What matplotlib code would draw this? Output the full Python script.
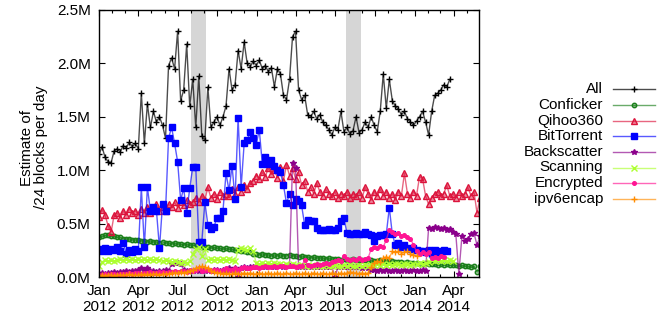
import numpy as np
import matplotlib
matplotlib.use("Agg")
import matplotlib.pyplot as plt
import matplotlib.dates as mdates
from matplotlib.lines import Line2D
from matplotlib.ticker import FuncFormatter, MultipleLocator

plt.rcParams["font.family"] = ["Liberation Sans", "DejaVu Sans"]
plt.rcParams["font.size"] = 11

# ─── DATA: millions of /24 blocks, one sample per week from 2012-01-01 ───
start = np.datetime64("2012-01-01")

all_blocks = [
    1.15, 1.22, 1.12, 1.08, 1.07, 1.18, 1.20, 1.17, 1.23, 1.21,
    1.26, 1.22, 1.25, 1.20, 1.72, 1.25, 1.62, 1.40, 1.55, 1.45,
    1.50, 1.42, 1.30, 1.98, 2.05, 1.95, 2.30, 1.65, 1.75, 2.18,
    1.60, 1.85, 1.40, 1.88, 1.32, 1.28, 1.78, 1.40, 1.45, 1.50,
    1.42, 1.50, 1.60, 1.95, 1.75, 1.80, 2.12, 1.95, 2.20, 2.00,
    1.97, 2.02, 1.98, 2.03, 1.95, 1.98, 1.92, 1.96, 1.78, 1.95,
    1.90, 1.70, 1.66, 1.85, 2.25, 2.30, 1.75, 1.66, 1.70, 1.52,
    1.50, 1.55, 1.48, 1.52, 1.45, 1.42, 1.38, 1.33, 1.40, 1.38,
    1.55, 1.36, 1.40, 1.34, 1.37, 1.50, 1.35, 1.38, 1.45, 1.40,
    1.50, 1.42, 1.36, 1.55, 1.90, 1.58, 1.85, 1.65, 1.60, 1.57,
    1.52, 1.55, 1.48, 1.45, 1.42, 1.46, 1.50, 1.55, 1.45, 1.33,
    1.55, 1.70, 1.72, 1.75, 1.80, 1.78, 1.85,
]

conficker = [
    0.37, 0.38, 0.39, 0.39, 0.38, 0.38, 0.37, 0.37, 0.36, 0.36, 0.36, 0.35, 0.35,
    0.35, 0.34, 0.34, 0.33, 0.34, 0.33, 0.33, 0.32, 0.33, 0.32, 0.32, 0.31, 0.32,
    0.31, 0.31, 0.30, 0.31, 0.30, 0.30, 0.29, 0.29, 0.28, 0.28, 0.28, 0.27, 0.28,
    0.27, 0.27, 0.26, 0.27, 0.26, 0.26, 0.25, 0.25, 0.24, 0.24, 0.23, 0.23, 0.22,
    0.22, 0.21, 0.22, 0.21, 0.21, 0.20, 0.21, 0.20, 0.21, 0.20, 0.20, 0.21, 0.20,
    0.20, 0.19, 0.20, 0.19, 0.19, 0.18, 0.19, 0.18, 0.18, 0.18, 0.17, 0.18, 0.17,
    0.17, 0.17, 0.16, 0.17, 0.16, 0.16, 0.17, 0.16, 0.16, 0.16, 0.16, 0.15, 0.16,
    0.15, 0.15, 0.16, 0.15, 0.15, 0.14, 0.15, 0.14, 0.14, 0.14, 0.13, 0.14, 0.13,
    0.13, 0.13, 0.12, 0.12, 0.13, 0.12, 0.12, 0.12, 0.11, 0.12, 0.11, 0.12, 0.11,
    0.11, 0.11, 0.10, 0.11, 0.10, 0.10, 0.09, 0.10, 0.05, 0.10,
]

qihoo360 = [
    0.56, 0.63, 0.58, 0.48, 0.42, 0.58, 0.60, 0.55, 0.62, 0.58,
    0.64, 0.60, 0.62, 0.58, 0.64, 0.60, 0.66, 0.60, 0.64, 0.68,
    0.62, 0.66, 0.62, 0.68, 0.66, 0.70, 0.65, 0.70, 0.67, 0.72,
    0.68, 0.70, 0.74, 0.70, 0.76, 0.72, 0.84, 0.74, 0.78, 0.73,
    0.80, 0.76, 0.78, 0.76, 0.82, 0.78, 0.84, 0.80, 0.86, 0.82,
    0.88, 0.90, 0.95, 0.92, 0.98, 0.94, 1.02, 0.96, 1.00, 0.93,
    1.03, 0.90, 1.05, 0.95, 1.02, 0.92, 0.98, 0.86, 0.90, 0.80,
    0.84, 0.78, 0.88, 0.80, 0.76, 0.82, 0.78, 0.76, 0.80, 0.74,
    0.78, 0.76, 0.80, 0.74, 0.78, 0.76, 0.80, 0.74, 0.84, 0.78,
    0.72, 0.80, 0.76, 0.82, 0.76, 0.80, 0.74, 0.78, 0.72, 0.80,
    0.76, 0.97, 0.78, 0.74, 0.80, 0.76, 0.94, 0.92, 0.76, 0.68,
    0.74, 0.78, 0.80, 0.76, 0.78, 0.86, 0.76, 0.78, 0.74, 0.80,
    0.76, 0.78, 0.84, 0.76, 0.80, 0.60, 0.74,
]

bittorrent = [
    0.26, 0.24, 0.27, 0.24, 0.26, 0.25, 0.28, 0.24, 0.32, 0.22,
    0.25, 0.23, 0.26, 0.24, 0.84, 0.28, 0.84, 0.62, 0.66, 0.62,
    0.27, 0.68, 0.62, 1.30, 1.40, 1.25, 1.08, 0.72, 0.83, 0.60,
    0.83, 1.03, 1.03, 0.33, 0.33, 0.70, 0.49, 0.45, 0.47, 0.55,
    0.55, 0.62, 0.97, 0.81, 1.04, 0.73, 1.49, 0.84, 1.25, 1.28,
    1.36, 1.30, 1.24, 1.38, 1.06, 1.12, 1.06, 1.10, 1.04, 1.00,
    0.98, 0.86, 0.69, 0.78, 0.67, 0.73, 0.71, 0.67, 0.49, 0.53,
    0.52, 0.52, 0.46, 0.44, 0.44, 0.44, 0.45, 0.44, 0.44, 0.46,
    0.52, 0.55, 0.41, 0.40, 0.40, 0.41, 0.40, 0.40, 0.42, 0.40,
    0.39, 0.34, 0.38, 0.39, 0.39, 0.40, 0.65, 0.40, 0.30, 0.32,
    0.28, 0.30, 0.27, 0.26, 0.27, 0.25, 0.24, 0.24, 0.23, 0.25,
    0.22, 0.25, 0.23, 0.24, 0.25, 0.24,
]

backscatter = [
    0.03, 0.04, 0.03, 0.04, 0.04, 0.05, 0.04, 0.05, 0.05, 0.06, 0.05, 0.06, 0.06,
    0.07, 0.08, 0.07, 0.08, 0.06, 0.06, 0.05, 0.06, 0.06, 0.07, 0.06, 0.12, 0.13,
    0.13, 0.12, 0.07, 0.06, 0.06, 0.06, 0.07, 0.06, 0.07, 0.06, 0.07, 0.06, 0.07,
    0.07, 0.06, 0.07, 0.07, 0.08, 0.07, 0.08, 0.00, 0.08, 0.09, 0.08, 0.09, 0.09,
    0.10, 0.09, 0.10, 0.09, 0.10, 0.10, 0.09, 0.10, 0.10, 0.09, 0.10, 0.10, 1.07,
    1.02, 0.09, 0.10, 0.09, 0.10, 0.09, 0.10, 0.09, 0.09, 0.10, 0.09, 0.09, 0.10,
    0.00, 0.09, 0.10, 0.09, 0.09, 0.10, 0.09, 0.09, 0.10, 0.08, 0.09, 0.08, 0.07,
    0.07, 0.06, 0.07, 0.06, 0.07, 0.06, 0.06, 0.07, 0.06, 0.06, 0.07, 0.06, 0.06,
    0.07, 0.06, 0.06, 0.07, 0.06, 0.46, 0.45, 0.47, 0.46, 0.45, 0.46, 0.44, 0.45,
    0.42, 0.40, 0.03, 0.38, 0.34, 0.36, 0.40, 0.41, 0.30, 0.38,
]

scanning = [
    0.10, 0.14, 0.16, 0.15, 0.16, 0.15, 0.16, 0.17, 0.16, 0.17, 0.16, 0.17, 0.16,
    0.17, 0.16, 0.17, 0.16, 0.17, 0.16, 0.17, 0.16, 0.15, 0.16, 0.15, 0.14, 0.15,
    0.14, 0.13, 0.14, 0.13, 0.15, 0.22, 0.26, 0.28, 0.20, 0.26, 0.16, 0.17, 0.16,
    0.17, 0.16, 0.17, 0.16, 0.17, 0.16, 0.15, 0.25, 0.27, 0.26, 0.25, 0.27, 0.24,
    0.13, 0.12, 0.13, 0.12, 0.13, 0.12, 0.13, 0.12, 0.12, 0.11, 0.12, 0.11, 0.12,
    0.11, 0.10, 0.11, 0.10, 0.11, 0.10, 0.10, 0.11, 0.10, 0.10, 0.11, 0.10, 0.10,
    0.11, 0.10, 0.10, 0.11, 0.10, 0.11, 0.10, 0.10, 0.11, 0.10, 0.11, 0.10, 0.11,
    0.11, 0.12, 0.11, 0.12, 0.11, 0.12, 0.11, 0.12, 0.12, 0.11, 0.12, 0.12, 0.11,
    0.12, 0.12, 0.13, 0.12, 0.13, 0.14, 0.16, 0.15, 0.16, 0.15, 0.16, 0.15, 0.16,
    0.15,
]

encrypted = [
    0.02, 0.02, 0.03, 0.02, 0.03, 0.03, 0.02, 0.03, 0.03, 0.03, 0.04, 0.03, 0.04,
    0.04, 0.03, 0.04, 0.04, 0.05, 0.04, 0.04, 0.05, 0.05, 0.04, 0.05, 0.05, 0.06,
    0.05, 0.06, 0.06, 0.05, 0.07, 0.06, 0.07, 0.08, 0.06, 0.07, 0.07, 0.06, 0.07,
    0.07, 0.06, 0.07, 0.08, 0.07, 0.07, 0.08, 0.07, 0.08, 0.09, 0.08, 0.08, 0.09,
    0.09, 0.08, 0.09, 0.10, 0.09, 0.09, 0.10, 0.09, 0.10, 0.10, 0.09, 0.10, 0.10,
    0.09, 0.10, 0.10, 0.16, 0.11, 0.10, 0.11, 0.12, 0.11, 0.12, 0.13, 0.12, 0.14,
    0.15, 0.16, 0.15, 0.20, 0.17, 0.16, 0.17, 0.16, 0.18, 0.16, 0.17, 0.18, 0.26,
    0.28, 0.27, 0.29, 0.28, 0.35, 0.44, 0.42, 0.40, 0.41, 0.38, 0.39, 0.37, 0.36,
    0.30, 0.24, 0.22, 0.23, 0.22, 0.23, 0.18, 0.19, 0.18, 0.20, 0.19,
]

ipv6encap = [
    0.01, 0.02, 0.01, 0.02, 0.02, 0.01, 0.02, 0.02, 0.02, 0.02, 0.03, 0.02, 0.02,
    0.02, 0.03, 0.02, 0.03, 0.02, 0.03, 0.03, 0.02, 0.03, 0.03, 0.03, 0.04, 0.04,
    0.04, 0.05, 0.04, 0.05, 0.06, 0.07, 0.08, 0.09, 0.10, 0.09, 0.08, 0.06, 0.05,
    0.04, 0.04, 0.03, 0.04, 0.03, 0.03, 0.04, 0.03, 0.03, 0.04, 0.03, 0.04, 0.03,
    0.03, 0.04, 0.03, 0.03, 0.04, 0.03, 0.03, 0.04, 0.03, 0.03, 0.04, 0.03, 0.03,
    0.04, 0.03, 0.03, 0.04, 0.03, 0.03, 0.04, 0.03, 0.03, 0.04, 0.03, 0.03, 0.04,
    0.03, 0.03, 0.04, 0.03, 0.04, 0.05, 0.04, 0.04, 0.03, 0.04, 0.03, 0.04, 0.09,
    0.13, 0.15, 0.14, 0.18, 0.19, 0.18, 0.24, 0.23, 0.24, 0.22, 0.23, 0.24, 0.22,
    0.21, 0.20,
]

# grey shaded periods
bands = [("2012-08-01", "2012-09-05"), ("2013-07-25", "2013-08-30")]

# (label, values, colour, marker, marker size, hollow marker)
series = [
    ("All",         all_blocks,  "#000000", "+", 5.0, False),
    ("Conficker",   conficker,   "#1a7f1a", "o", 3.2, True),
    ("Qihoo360",    qihoo360,    "#dc143c", "^", 4.0, True),
    ("BitTorrent",  bittorrent,  "#0000ff", "s", 4.3, False),
    ("Backscatter", backscatter, "#8b008b", "*", 4.3, False),
    ("Scanning",    scanning,    "#adff2f", "x", 3.8, False),
    ("Encrypted",   encrypted,   "#ff1493", "o", 2.6, False),
    ("ipv6encap",   ipv6encap,   "#ff8c00", "+", 4.5, False),
]


def weeks(n):
    return start + np.arange(n) * np.timedelta64(7, "D")


def style(color, marker, ms, hollow):
    rgb = matplotlib.colors.to_rgb(color)
    line_alpha = 0.65 if color != "#000000" else 0.7
    return dict(
        color=(*rgb, line_alpha), lw=1.0, marker=marker, ms=ms,
        mec=color, mew=1.0,
        mfc=(*rgb, 0.5) if hollow else color,
    )


# ─── PLOT ─────────────────────────────────────────────────────
fig = plt.figure(figsize=(6.6, 3.21), dpi=100)
ax = fig.add_axes([0.15, 0.137, 0.576, 0.832])

for a, b in bands:
    ax.axvspan(np.datetime64(a), np.datetime64(b), color="#d6d6d6", lw=0, zorder=0)

for label, vals, color, marker, ms, hollow in series:
    ax.plot(weeks(len(vals)), vals, **style(color, marker, ms, hollow), zorder=2)

ax.set_xlim(np.datetime64("2012-01-01"), np.datetime64("2014-05-30"))
ax.set_ylim(0, 2.5)
ax.yaxis.set_major_locator(MultipleLocator(0.5))
ax.yaxis.set_major_formatter(FuncFormatter(lambda v, p: f"{v:.1f}M"))
ax.xaxis.set_major_locator(mdates.MonthLocator(bymonth=[1, 4, 7, 10]))
ax.xaxis.set_minor_locator(mdates.MonthLocator())
ax.xaxis.set_major_formatter(mdates.DateFormatter("%b\n%Y"))

ax.tick_params(which="both", direction="in", top=True, right=True, width=0.8)
ax.tick_params(which="major", length=4.5, pad=5)
ax.tick_params(which="minor", length=2.5)
ax.tick_params(axis="y", pad=6)
for sp in ax.spines.values():
    sp.set_linewidth(1.0)

fig.text(0.052, 0.54, "Estimate of\n/24 blocks per day", rotation=90,
         ha="center", va="center", linespacing=1.0)

# legend: labels right aligned, sample line to the right
row_px = [89, 105, 120.5, 136, 151.5, 167.5, 183, 199]
for (label, vals, color, marker, ms, hollow), ypx in zip(series, row_px):
    y = 1 - ypx / 321
    fig.text(603 / 660, y, label, ha="right", va="center")
    fig.add_artist(Line2D([613 / 660, 655 / 660], [y, y], transform=fig.transFigure,
                          **{**style(color, marker, ms, hollow), "marker": None}))
    fig.add_artist(Line2D([634 / 660], [y], transform=fig.transFigure, ls="none",
                          **{k: v for k, v in style(color, marker, ms, hollow).items()
                             if k not in ("color", "lw")}))

fig.savefig("out.png", dpi=100)
